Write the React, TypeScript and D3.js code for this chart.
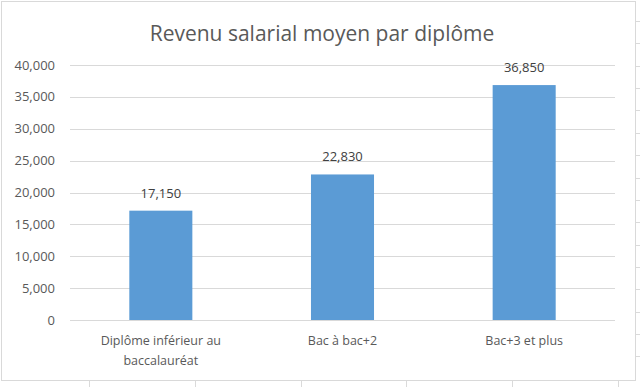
import React from "react";
import * as d3 from "d3";

const title = "Revenu salarial moyen par diplôme";
const categories = ["Diplôme inférieur au baccalauréat", "Bac à bac+2", "Bac+3 et plus"];
const values = [17150, 22830, 36850];
const yTicks = [0, 5000, 10000, 15000, 20000, 25000, 30000, 35000, 40000];

const W = 640;
const H = 387;
const FONT = "'Open Sans', 'Noto Sans', sans-serif";
const TEXT = "#595959";
const GRID = "#d9d9d9";
const BAR = "#5b9bd5";

function wrap(label: string, maxChars: number): string[] {
  const words = label.split(" ");
  const lines: string[] = [];
  let cur = "";
  for (const w of words) {
    const next = cur ? cur + " " + w : w;
    if (next.length > maxChars && cur) {
      lines.push(cur);
      cur = w;
    } else cur = next;
  }
  if (cur) lines.push(cur);
  return lines;
}

export default function App() {
  const x = d3.scaleBand<string>().domain(categories).range([70, 615]).paddingInner(0.653).paddingOuter(0.3265);
  const y = d3.scaleLinear().domain([0, 40000]).range([320, 65]);
  const fmt = d3.format(",");

  const sheetRows = d3.range(21, 370, 22.36);
  const sheetCols = d3.range(89, 640, 105.8);

  return (
    <svg width={W} height={H} style={{ position: "absolute", left: 0, top: 0, background: "#fff" }} fontFamily={FONT}>
      {/* spreadsheet background */}
      {sheetRows.map((r, i) => (
        <line key={"r" + i} x1={636} x2={640} y1={Math.round(r) + 0.5} y2={Math.round(r) + 0.5} stroke="#dadada" />
      ))}
      {sheetCols.map((c, i) => (
        <line key={"c" + i} x1={Math.round(c) + 0.5} x2={Math.round(c) + 0.5} y1={381} y2={387} stroke="#dadada" />
      ))}
      {/* chart area */}
      <rect x={1.5} y={1.5} width={634} height={379} fill="#fff" stroke={GRID} />
      <text x={322} y={41} textAnchor="middle" fontSize={21} fill={TEXT}>{title}</text>
      {yTicks.map((t) => (
        <g key={t}>
          <line x1={70} x2={615} y1={Math.round(y(t)) + 0.5} y2={Math.round(y(t)) + 0.5} stroke={GRID} />
          <text x={55} y={y(t) + 4.5} textAnchor="end" fontSize={13} fill={TEXT}>{fmt(t)}</text>
        </g>
      ))}
      {categories.map((c, i) => (
        <g key={c}>
          <rect x={x(c)!} y={y(values[i])} width={x.bandwidth()} height={y(0) - y(values[i])} fill={BAR} />
          <text x={x(c)! + x.bandwidth() / 2} y={y(values[i]) - 13} textAnchor="middle" fontSize={13} fill="#404040">{fmt(values[i])}</text>
          {wrap(c, 22).map((line, j) => (
            <text key={j} x={x(c)! + x.bandwidth() / 2} y={345 + j * 20} textAnchor="middle" fontSize={12.5} fill={TEXT}>{line}</text>
          ))}
        </g>
      ))}
    </svg>
  );
}
